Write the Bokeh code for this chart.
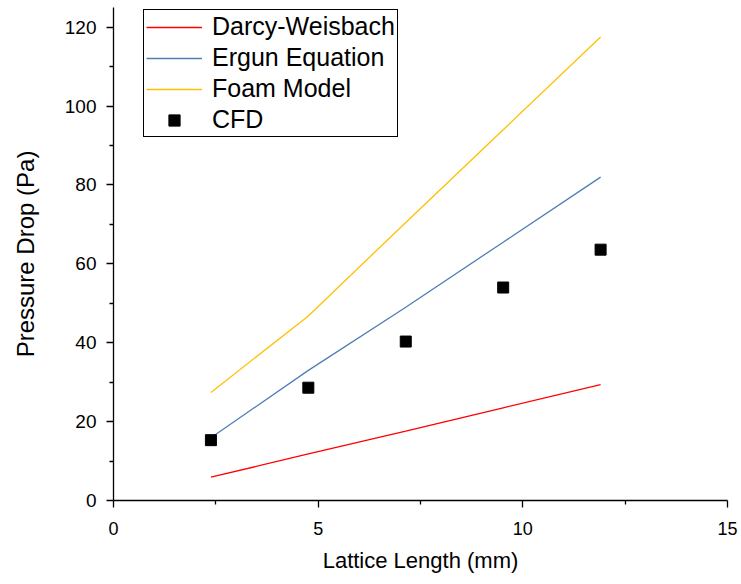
from bokeh.plotting import figure
from bokeh.models import Range1d, FixedTicker, Legend, LegendItem
from bokeh.embed import file_html
from bokeh.resources import INLINE

lattice_length = [2.38, 4.76, 7.14, 9.52, 11.9]
darcy_weisbach = [5.9, 11.8, 17.6, 23.5, 29.4]
ergun_equation = [15.9, 33.0, 49.0, 65.5, 82.0]
foam_model = [27.4, 46.8, 70.5, 94.0, 117.5]
cfd = [15.3, 28.6, 40.3, 54.0, 63.6]

x_ticks = [0, 5, 10, 15]
x_minor = [2.5, 7.5, 12.5]
y_ticks = [0, 20, 40, 60, 80, 100, 120]
y_minor = [10, 30, 50, 70, 90, 110]

FONT = "Liberation Sans"

p = figure(width=741, height=584, output_backend="svg", toolbar_location=None,
           x_range=Range1d(0, 15), y_range=Range1d(0, 125),
           min_border_left=113, min_border_right=14, min_border_top=7, min_border_bottom=84)
p.outline_line_color = None
p.xgrid.visible = False
p.ygrid.visible = False

r1 = p.line(lattice_length, darcy_weisbach, line_color="#FF0000", line_width=1.3)
r2 = p.line(lattice_length, ergun_equation, line_color="#4F7DB5", line_width=1.3)
r3 = p.line(lattice_length, foam_model, line_color="#FFC000", line_width=1.3)
r4 = p.scatter(lattice_length, cfd, marker="square", size=11, fill_color="black", line_color="black")

for ax in (p.xaxis[0], p.yaxis[0]):
    ax.axis_line_color = "black"
    ax.axis_line_width = 1.3
    ax.major_tick_line_color = "black"
    ax.minor_tick_line_color = "black"
    ax.major_tick_line_width = 1.3
    ax.minor_tick_line_width = 1.3
    ax.major_tick_in = 0
    ax.major_tick_out = 7
    ax.minor_tick_in = 0
    ax.minor_tick_out = 4
    ax.major_label_text_font = FONT
    ax.axis_label_text_font = FONT
    ax.axis_label_text_font_style = "normal"
    ax.major_label_text_color = "black"
    ax.axis_label_text_color = "black"

p.xaxis.ticker = FixedTicker(ticks=x_ticks, minor_ticks=x_minor)
p.yaxis.ticker = FixedTicker(ticks=y_ticks, minor_ticks=y_minor)
p.xaxis.axis_label = "Lattice Length (mm)"
p.yaxis.axis_label = "Pressure Drop (Pa)"
p.xaxis.major_label_text_font_size = "18px"
p.yaxis.major_label_text_font_size = "19px"
p.xaxis.axis_label_text_font_size = "22px"
p.yaxis.axis_label_text_font_size = "24px"
p.xaxis.major_label_standoff = 14
p.yaxis.major_label_standoff = 10
p.xaxis.axis_label_standoff = 10
p.yaxis.axis_label_standoff = 23

legend = Legend(items=[
    LegendItem(label="Darcy-Weisbach", renderers=[r1]),
    LegendItem(label="Ergun Equation", renderers=[r2]),
    LegendItem(label="Foam Model", renderers=[r3]),
    LegendItem(label="CFD", renderers=[r4]),
], location=(30, 363))
legend.border_line_color = "black"
legend.border_line_alpha = 1.0
legend.border_line_width = 1.3
legend.label_text_font = FONT
legend.label_text_font_size = "25px"
legend.label_text_color = "black"
legend.glyph_width = 56
legend.glyph_height = 28
legend.label_height = 28
legend.spacing = 2
legend.padding = 2
legend.margin = 0
legend.label_standoff = 10
legend.background_fill_alpha = 1
p.add_layout(legend, "center")

open("out.html", "w").write(file_html(p, INLINE))
